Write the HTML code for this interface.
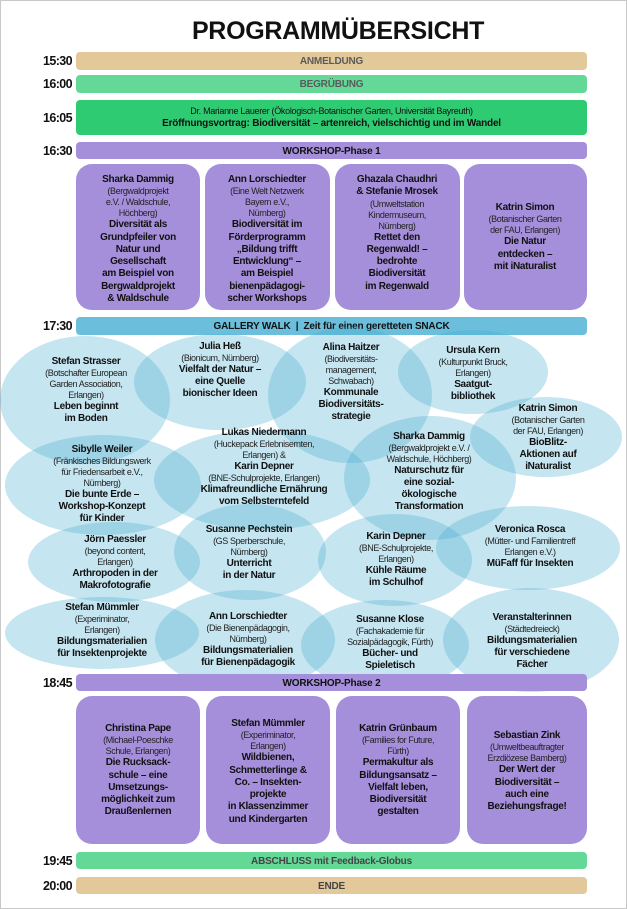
<!DOCTYPE html>
<html><head><meta charset="utf-8"><style>
*{margin:0;padding:0;box-sizing:border-box}
body{width:627px;height:909px;background:#fff;position:relative;overflow:hidden;font-family:"Liberation Sans",sans-serif;color:#111}
#frame{position:absolute;left:0;top:0;width:627px;height:909px;border:1px solid #c8c8c8}
.bar{position:absolute;left:76px;width:511px;border-radius:4px;text-align:center;font-weight:bold;font-size:10px;letter-spacing:-0.2px;padding-top:1px}
.time{position:absolute;left:20px;width:52px;text-align:right;font-weight:bold;font-size:12.5px;letter-spacing:-0.6px}
.card{position:absolute;background:#a58fdb;border-radius:16px}
.t{position:absolute;width:200px;margin-left:-100px;text-align:center;font-size:9px;line-height:11px;letter-spacing:-0.4px;color:#222}
.t b{display:block;font-size:10px;line-height:12px;color:#111;letter-spacing:-0.3px}
.t span{display:block}
.c b{line-height:12.3px}
</style></head><body>
<div id="frame"></div>
<div style="position:absolute;left:140px;width:396px;top:17px;text-align:center;font-weight:bold;font-size:25px;letter-spacing:-0.3px">PROGRAMMÜBERSICHT</div>

<div class="time" style="top:54px">15:30</div>
<div class="bar" style="top:52px;height:18px;line-height:18px;background:#e3c89a;color:#5a5a5a">ANMELDUNG</div>
<div class="time" style="top:77px">16:00</div>
<div class="bar" style="top:75px;height:18px;line-height:18px;background:#64d896;color:#5a5a5a">BEGRÜBUNG</div>
<div class="time" style="top:111px">16:05</div>
<div class="bar" style="top:100px;height:35px;background:#2ecb73;padding-top:5px;line-height:12px"><span style="font-weight:normal;font-size:9px;letter-spacing:-0.3px">Dr. Marianne Lauerer (Ökologisch-Botanischer Garten, Universität Bayreuth)</span><br>Eröffnungsvortrag: Biodiversität – artenreich, vielschichtig und im Wandel</div>
<div class="time" style="top:144px">16:30</div>
<div class="bar" style="top:142px;height:17px;line-height:17px;background:#a58fdb">WORKSHOP-Phase 1</div>

<div class="card" style="left:76px;top:164px;width:124px;height:146px"></div>
<div class="card" style="left:205px;top:164px;width:125px;height:146px"></div>
<div class="card" style="left:335px;top:164px;width:125px;height:146px"></div>
<div class="card" style="left:464px;top:164px;width:123px;height:146px"></div>

<div class="t c" style="left:138px;top:174px"><b>Sharka Dammig</b><span>(Bergwaldprojekt</span><span>e.V. / Waldschule,</span><span>Höchberg)</span><b>Diversität als</b><b>Grundpfeiler von</b><b>Natur und</b><b>Gesellschaft</b><b>am Beispiel von</b><b>Bergwaldprojekt</b><b>&amp; Waldschule</b></div>
<div class="t c" style="left:267px;top:174px"><b>Ann Lorschiedter</b><span>(Eine Welt Netzwerk</span><span>Bayern e.V.,</span><span>Nürnberg)</span><b>Biodiversität im</b><b>Förderprogramm</b><b>„Bildung trifft</b><b>Entwicklung“ –</b><b>am Beispiel</b><b>bienenpädagogi-</b><b>scher Workshops</b></div>
<div class="t c" style="left:397px;top:174px"><b>Ghazala Chaudhri</b><b>&amp; Stefanie Mrosek</b><span>(Umweltstation</span><span>Kindermuseum,</span><span>Nürnberg)</span><b>Rettet den</b><b>Regenwald! –</b><b>bedrohte</b><b>Biodiversität</b><b>im Regenwald</b></div>
<div class="t c" style="left:525px;top:202px"><b>Katrin Simon</b><span>(Botanischer Garten</span><span>der FAU, Erlangen)</span><b>Die Natur</b><b>entdecken –</b><b>mit iNaturalist</b></div>

<div class="time" style="top:319px">17:30</div>
<div class="bar" style="top:317px;height:18px;line-height:18px;background:#6bbfdc">GALLERY WALK &nbsp;|&nbsp; Zeit für einen geretteten SNACK</div>

<svg style="position:absolute;left:0;top:0" width="627" height="909">
<g fill="rgba(68,171,207,0.31)">
<ellipse cx="85" cy="400" rx="85" ry="64"/>
<ellipse cx="220" cy="382" rx="86" ry="48"/>
<ellipse cx="350" cy="395" rx="82" ry="68"/>
<ellipse cx="473" cy="372" rx="75" ry="42"/>
<ellipse cx="546" cy="437" rx="76" ry="40"/>
<ellipse cx="103" cy="485" rx="98" ry="50"/>
<ellipse cx="262" cy="480" rx="108" ry="50"/>
<ellipse cx="430" cy="478" rx="86" ry="62"/>
<ellipse cx="114" cy="562" rx="86" ry="40"/>
<ellipse cx="250" cy="552" rx="76" ry="48"/>
<ellipse cx="395" cy="560" rx="77" ry="46"/>
<ellipse cx="528" cy="548" rx="92" ry="42"/>
<ellipse cx="102" cy="633" rx="97" ry="36"/>
<ellipse cx="245" cy="640" rx="90" ry="50"/>
<ellipse cx="385" cy="645" rx="84" ry="45"/>
<ellipse cx="531" cy="640" rx="88" ry="52"/>
</g></svg>

<div class="t" style="left:86px;top:356px"><b>Stefan Strasser</b><span>(Botschafter European</span><span>Garden Association,</span><span>Erlangen)</span><b>Leben beginnt</b><b>im Boden</b></div>
<div class="t" style="left:220px;top:341px"><b>Julia Heß</b><span>(Bionicum, Nürnberg)</span><b>Vielfalt der Natur –</b><b>eine Quelle</b><b>bionischer Ideen</b></div>
<div class="t" style="left:351px;top:342px"><b>Alina Haitzer</b><span>(Biodiversitäts-</span><span>management,</span><span>Schwabach)</span><b>Kommunale</b><b>Biodiversitäts-</b><b>strategie</b></div>
<div class="t" style="left:473px;top:345px"><b>Ursula Kern</b><span>(Kulturpunkt Bruck,</span><span>Erlangen)</span><b>Saatgut-</b><b>bibliothek</b></div>
<div class="t" style="left:548px;top:403px"><b>Katrin Simon</b><span>(Botanischer Garten</span><span>der FAU, Erlangen)</span><b>BioBlitz-</b><b>Aktionen auf</b><b>iNaturalist</b></div>
<div class="t" style="left:102px;top:444px"><b>Sibylle Weiler</b><span>(Fränkisches Bildungswerk</span><span>für Friedensarbeit e.V.,</span><span>Nürnberg)</span><b>Die bunte Erde –</b><b>Workshop-Konzept</b><b>für Kinder</b></div>
<div class="t" style="left:264px;top:427px"><b>Lukas Niedermann</b><span>(Huckepack Erlebnisernten,</span><span>Erlangen) &amp;</span><b>Karin Depner</b><span>(BNE-Schulprojekte, Erlangen)</span><b>Klimafreundliche Ernährung</b><b>vom Selbsterntefeld</b></div>
<div class="t" style="left:429px;top:431px"><b>Sharka Dammig</b><span>(Bergwaldprojekt e.V. /</span><span>Waldschule, Höchberg)</span><b>Naturschutz für</b><b>eine sozial-</b><b>ökologische</b><b>Transformation</b></div>
<div class="t" style="left:115px;top:534px"><b>Jörn Paessler</b><span>(beyond content,</span><span>Erlangen)</span><b>Arthropoden in der</b><b>Makrofotografie</b></div>
<div class="t" style="left:249px;top:524px"><b>Susanne Pechstein</b><span>(GS Sperberschule,</span><span>Nürnberg)</span><b>Unterricht</b><b>in der Natur</b></div>
<div class="t" style="left:396px;top:531px"><b>Karin Depner</b><span>(BNE-Schulprojekte,</span><span>Erlangen)</span><b>Kühle Räume</b><b>im Schulhof</b></div>
<div class="t" style="left:530px;top:524px"><b>Veronica Rosca</b><span>(Mütter- und Familientreff</span><span>Erlangen e.V.)</span><b>MüFaff für Insekten</b></div>
<div class="t" style="left:102px;top:602px"><b>Stefan Mümmler</b><span>(Experiminator,</span><span>Erlangen)</span><b>Bildungsmaterialien</b><b>für Insektenprojekte</b></div>
<div class="t" style="left:248px;top:611px"><b>Ann Lorschiedter</b><span>(Die Bienenpädagogin,</span><span>Nürnberg)</span><b>Bildungsmaterialien</b><b>für Bienenpädagogik</b></div>
<div class="t" style="left:390px;top:614px"><b>Susanne Klose</b><span>(Fachakademie für</span><span>Sozialpädagogik, Fürth)</span><b>Bücher- und</b><b>Spieletisch</b></div>
<div class="t" style="left:532px;top:612px"><b>Veranstalterinnen</b><span>(Städtedreieck)</span><b>Bildungsmaterialien</b><b>für verschiedene</b><b>Fächer</b></div>

<div class="time" style="top:676px">18:45</div>
<div class="bar" style="top:674px;height:17px;line-height:17px;background:#a58fdb">WORKSHOP-Phase 2</div>

<div class="card" style="left:76px;top:696px;width:124px;height:148px"></div>
<div class="card" style="left:206px;top:696px;width:124px;height:148px"></div>
<div class="card" style="left:336px;top:696px;width:124px;height:148px"></div>
<div class="card" style="left:467px;top:696px;width:120px;height:148px"></div>

<div class="t c" style="left:138px;top:723px"><b>Christina Pape</b><span>(Michael-Poeschke</span><span>Schule, Erlangen)</span><b>Die Rucksack-</b><b>schule – eine</b><b>Umsetzungs-</b><b>möglichkeit zum</b><b>Draußenlernen</b></div>
<div class="t c" style="left:268px;top:718px"><b>Stefan Mümmler</b><span>(Experiminator,</span><span>Erlangen)</span><b>Wildbienen,</b><b>Schmetterlinge &amp;</b><b>Co. – Insekten-</b><b>projekte</b><b>in Klassenzimmer</b><b>und Kindergarten</b></div>
<div class="t c" style="left:398px;top:723px"><b>Katrin Grünbaum</b><span>(Families for Future,</span><span>Fürth)</span><b>Permakultur als</b><b>Bildungsansatz –</b><b>Vielfalt leben,</b><b>Biodiversität</b><b>gestalten</b></div>
<div class="t c" style="left:527px;top:730px"><b>Sebastian Zink</b><span>(Umweltbeauftragter</span><span>Erzdiözese Bamberg)</span><b>Der Wert der</b><b>Biodiversität –</b><b>auch eine</b><b>Beziehungsfrage!</b></div>

<div class="time" style="top:854px">19:45</div>
<div class="bar" style="top:852px;height:17px;line-height:17px;background:#64d896;color:#444">ABSCHLUSS mit Feedback-Globus</div>
<div class="time" style="top:879px">20:00</div>
<div class="bar" style="top:877px;height:17px;line-height:17px;background:#e3c89a;color:#444">ENDE</div>
</body></html>
